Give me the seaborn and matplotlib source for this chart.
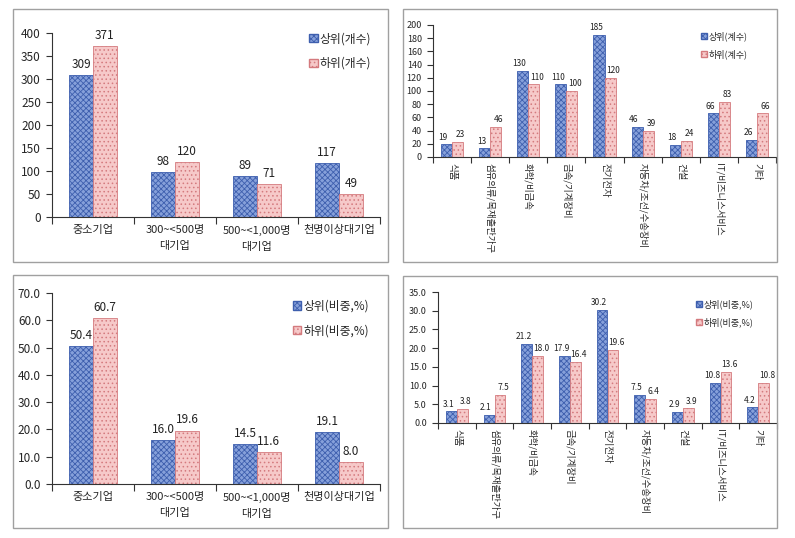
import matplotlib
matplotlib.use("Agg")
import matplotlib.pyplot as plt
from matplotlib.patches import Rectangle
from matplotlib.ticker import FixedLocator
import seaborn as sns
import pandas as pd
import numpy as np

sns.set_theme(style="white")
plt.rcParams['font.family'] = ['Noto Sans CJK KR', 'DejaVu Sans']
plt.rcParams['hatch.linewidth'] = 0.6

# ---- data ----
size_cats = ["중소기업", "300~<500명\n대기업", "500~<1,000명\n대기업", "천명이상대기업"]
size_top_cnt = [309, 98, 89, 117]
size_bot_cnt = [371, 120, 71, 49]
size_top_pct = [50.4, 16.0, 14.5, 19.1]
size_bot_pct = [60.7, 19.6, 11.6, 8.0]

ind_cats = ["식품", "섬유의류/목재출판가구", "화학/비금속", "금속/기계장비", "전기전자",
            "자동차/조선/수송장비", "건설", "IT/비즈니스서비스", "기타"]
ind_top_cnt = [19, 13, 130, 110, 185, 46, 18, 66, 26]
ind_bot_cnt = [23, 46, 110, 100, 120, 39, 24, 83, 66]
ind_top_pct = [3.1, 2.1, 21.2, 17.9, 30.2, 7.5, 2.9, 10.8, 4.2]
ind_bot_pct = [3.8, 7.5, 18.0, 16.4, 19.6, 6.4, 3.9, 13.6, 10.8]

W, H = 795, 538
fig = plt.figure(figsize=(W / 100, H / 100), dpi=100)
fig.patch.set_facecolor("white")

# panel borders
for (x0, y0, x1, y1) in [(13, 9, 388, 262), (403, 9, 777, 262),
                         (13, 275, 388, 528), (403, 276, 777, 528)]:
    fig.add_artist(Rectangle((x0 / W, 1 - y1 / H), (x1 - x0) / W, (y1 - y0) / H,
                             transform=fig.transFigure, fill=False,
                             edgecolor="#a0a0a0", linewidth=1.0))

FACE = ["#86A0DA", "#F6C9C9"]
EDGE = ["#3E5FAE", "#D47A7E"]
HATCH = ["xxxxxx", "...."]


def ax_rect(x0, x1, ytop, ybot):
    return [x0 / W, 1 - ybot / H, (x1 - x0) / W, (ybot - ytop) / H]


def panel(rect, cats, top, bot, names, ymax, ystep, fmt, small, legpos):
    ax = fig.add_axes(rect)
    df = pd.DataFrame({
        "cat": cats * 2,
        "val": list(top) + list(bot),
        "series": [names[0]] * len(cats) + [names[1]] * len(cats),
    })
    sns.barplot(data=df, x="cat", y="val", hue="series", order=cats,
                hue_order=names, palette=FACE, saturation=1, width=0.58,
                ax=ax, legend=True)
    for i, cont in enumerate(ax.containers):
        for p in cont:
            p.set_facecolor(FACE[i])
            p.set_edgecolor(EDGE[i])
            p.set_hatch(HATCH[i])
            p.set_linewidth(0.6)
        pad = 3 if not small else 2
        texts = ax.bar_label(cont, fmt=fmt, padding=pad,
                             fontsize=6 if small else 8.5, color="#222222")
        if small:
            dx = -2.3 if i == 0 else 2.3
            for t in texts:
                t.xyann = (dx, pad)
    n = len(cats)
    ax.set_xlim(-0.5, n - 0.5)
    ax.set_ylim(0, ymax)
    ax.set_yticks(np.arange(0, ymax + ystep / 2, ystep))
    if fmt == "%.1f":
        ax.set_yticklabels([f"{v:.1f}" for v in np.arange(0, ymax + ystep / 2, ystep)])
    ax.xaxis.set_minor_locator(FixedLocator(np.arange(-0.5, n, 1.0)))
    ax.tick_params(axis="x", which="major", length=0, pad=6 if not small else 4,
                   labelsize=6.8 if small else 8)
    ax.tick_params(axis="x", which="minor", length=5 if not small else 4,
                   direction="out", width=0.8, color="#333333", bottom=True)
    ax.tick_params(axis="y", length=4, direction="out", width=0.8, left=True,
                   color="#333333", labelsize=6.5 if small else 8.5, pad=4)
    for lab in ax.get_xticklabels():
        if small:
            lab.set_rotation(-90)
            lab.set_va("top")
            lab.set_ha("center")
        else:
            lab.set_linespacing(1.7)
    ax.set_xlabel("")
    ax.set_ylabel("")
    for s in ["top", "right"]:
        ax.spines[s].set_visible(False)
    for s in ["left", "bottom"]:
        ax.spines[s].set_color("#333333")
        ax.spines[s].set_linewidth(0.8)
    ax.set_facecolor("white")
    ax.grid(False)
    leg = ax.legend(loc="upper left", bbox_to_anchor=legpos, frameon=False,
                    fontsize=6.5 if small else 8.5, handlelength=0.7,
                    handleheight=0.7, handletextpad=0.2,
                    labelspacing=1.0 if not small else 0.9, borderaxespad=0)
    for i, h in enumerate(leg.legend_handles):
        h.set_facecolor(FACE[i])
        h.set_edgecolor(EDGE[i])
        h.set_hatch(HATCH[i])
    return ax


panel(ax_rect(52, 380, 33, 217), size_cats, size_top_cnt, size_bot_cnt,
      ["상위(개수)", "하위(개수)"], 400, 50, "%d", False, (0.77, 1.03))
panel(ax_rect(433, 776, 25, 157), ind_cats, ind_top_cnt, ind_bot_cnt,
      ["상위(계수)", "하위(계수)"], 200, 20, "%d", True, (0.77, 0.98))
panel(ax_rect(52, 380, 293, 484), size_cats, size_top_pct, size_bot_pct,
      ["상위(비중,%)", "하위(비중,%)"], 70, 10, "%.1f", False, (0.72, 0.99))
panel(ax_rect(438, 777, 292, 423), ind_cats, ind_top_pct, ind_bot_pct,
      ["상위(비중,%)", "하위(비중,%)"], 35, 5, "%.1f", True, (0.75, 0.97))

fig.savefig("out.png", dpi=100, facecolor="white")
